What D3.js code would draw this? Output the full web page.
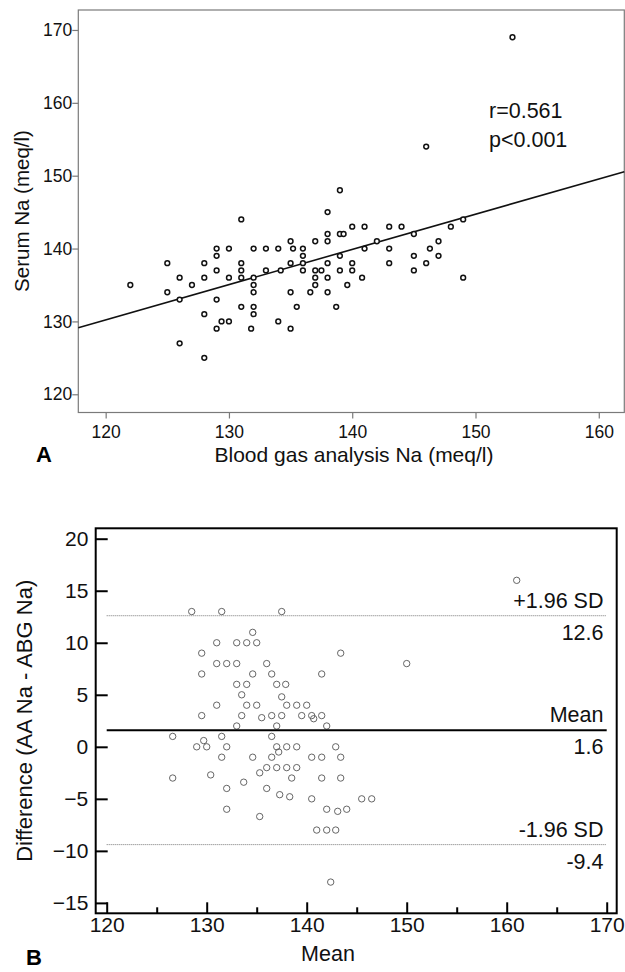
<!DOCTYPE html>
<html><head><meta charset="utf-8">
<script src="https://cdn.jsdelivr.net/npm/d3@7"></script>
<style>
body{margin:0;background:#fff}
svg{display:block}
text{font-family:"Liberation Sans",Arial,sans-serif}
</style>
</head><body>
<svg id="c" width="625" height="972"></svg>
<script>
// ---------- Panel A data ----------
const abgNa = [122,125,125,126,126,126,127,128,128,128,128,129,129,129,129,129,129.4,130,130,130,
  131,131,131,131,131,131.8,132,132,132,132,132,132,133,133,134,134,134.2,135,135,135,135,135.2,135.5,
  136,136,136,136,136.6,137,137,137,137,137.5,138,138,138,138,138,138,138.7,139,139,139,139,139.3,139.6,
  140,140,140,140.8,141,141,142,143,143,143,144,145,145,145,146,146.3,147,147,148,149,149,146,153];
const serumNa = [135,138,134,136,133,127,135,138,136,131,125,140,139,137,133,129,130,140,136,130,
  144,138,137,136,132,129,140,136,135,134,132,131,140,137,140,130,137,141,138,134,129,140,132,
  140,139,138,137,134,141,137,136,135,137,145,142,141,138,136,134,132,148,142,139,137,142,135,
  143,138,137,136,143,140,141,143,140,138,143,142,139,137,138,140,141,139,143,144,136,154,169];
const regX = [117.78,162.07];
const regY = [129.14,150.55];
const topXTicks = [120,130,140,150,160];
const topYTicks = [120,130,140,150,160,170];
const statText = ["r=0.561","p<0.001"];

// ---------- Panel B data ----------
const baMean = [161,128.5,131.5,137.5,134.6,129.5,131,133,134,135,143.4,131,132,133,136,150,129.5,134.6,136.5,141.5,
  133,134,137,137.9,133.5,137.5,131,134,135,138,139,140,129.5,133.5,136.5,137.5,139.5,140.5,141.5,135.5,140.7,
  133,137,142,126.6,131.5,136.5,129.7,129,130,132,137,138,139,142.9,137.2,131.5,134.6,136.5,140.5,141.5,143.4,
  136,137,138,139,135.3,126.6,130.4,138.5,141.5,143.4,133.7,132,136,137.3,138.3,140.5,145.5,146.5,
  132,142,144,143.1,135.3,141,142,142.9,142.4];
const baDiff = [16,13,13,13,11,9,10,10,10,10,9,8,8,8,8,8,7,7,7,7,
  6,6,6,6,5,4.8,4,4,4,4,4,4,3,3,3,3,3,3,3,2.8,2.7,
  2,2,2,1,1,1,0.6,0,0,0,0,0,0,0,-0.5,-1,-1,-1,-1,-1,-1,
  -2,-2,-2,-2,-2.5,-3,-2.7,-3,-3,-3,-3.4,-4,-4,-4.6,-4.8,-5,-5,-5,
  -6,-6,-6,-6.2,-6.7,-8,-8,-8,-13];
const baLineValues = [12.6,1.6,-9.4];
const baLineNames = ["+1.96 SD","Mean","-1.96 SD"];
const baLineLabels = ["12.6","1.6","-9.4"];
const baLineRange = [120,170];
const botXTicks = [120,130,140,150,160,170];
const botXMinor = [125,135,145,155,165];
const botYTicks = [20,15,10,5,0,-5,-10,-15];

const FONT = '"Liberation Sans",Arial,sans-serif';
const svg = d3.select("#c");

function styleAxis(g, size, color, lineColor, lw){
  g.select(".domain").remove();
  g.selectAll("line").attr("stroke", lineColor).attr("stroke-width", lw);
  g.selectAll("text").style("font-size", size+"px").style("font-family", FONT).attr("fill", color);
}

// ================= Panel A =================
const xA = d3.scaleLinear().domain([117.78,162.07]).range([78.3,624.3]);
const yA = d3.scaleLinear().domain([117.5,172.74]).range([412.5,10]);
const gA = svg.append("g");

gA.append("rect")
  .attr("x", xA.range()[0]).attr("y", yA.range()[1])
  .attr("width", xA.range()[1]-xA.range()[0]).attr("height", yA.range()[0]-yA.range()[1])
  .attr("fill","none").attr("stroke","#7a7a7a").attr("stroke-width",1.2);

const axYA = gA.append("g").attr("transform",`translate(${xA.range()[0]},0)`)
  .call(d3.axisLeft(yA).tickValues(topYTicks).tickSize(6).tickPadding(0));
styleAxis(axYA, 17.5, "#111", "#7a7a7a", 1.2);

const axXA = gA.append("g").attr("transform",`translate(0,${yA.range()[0]})`)
  .call(d3.axisBottom(xA).tickValues(topXTicks).tickSize(6).tickPadding(7));
styleAxis(axXA, 17.5, "#111", "#7a7a7a", 1.2);

const reg = regX.map((x,i)=>[x,regY[i]]);
gA.append("path").datum(reg)
  .attr("d", d3.line().x(d=>xA(d[0])).y(d=>yA(d[1])))
  .attr("stroke","#111").attr("stroke-width",1.6).attr("fill","none");

gA.selectAll("circle.pa").data(abgNa.map((x,i)=>[x,serumNa[i]])).enter()
  .append("circle").attr("class","pa")
  .attr("cx", d=>xA(d[0])).attr("cy", d=>yA(d[1])).attr("r",2.4)
  .attr("fill","#fff").attr("stroke","#111").attr("stroke-width",1.5);

gA.selectAll("text.stat").data(statText).enter().append("text").attr("class","stat")
  .attr("x",489).attr("y",(d,i)=>118+i*28.5)
  .style("font-size","21.5px").attr("fill","#111").text(d=>d);

gA.append("text").attr("x",354).attr("y",461.5).attr("text-anchor","middle")
  .style("font-size","21px").attr("fill","#111").text("Blood gas analysis Na (meq/l)");
gA.append("text").attr("transform","translate(29,211) rotate(-90)").attr("text-anchor","middle")
  .style("font-size","20.5px").attr("fill","#111").text("Serum Na (meq/l)");
gA.append("text").attr("x",36).attr("y",461.5)
  .style("font-size","22px").style("font-weight","bold").attr("fill","#000").text("A");

// ================= Panel B =================
const xB = d3.scaleLinear().domain([118.9,171]).range([95.7,616.7]);
const yB = d3.scaleLinear().domain([-16,21]).range([913.3,528.3]);
const gB = svg.append("g");

gB.selectAll("circle.pb").data(baMean.map((x,i)=>[x,baDiff[i]])).enter()
  .append("circle").attr("class","pb")
  .attr("cx", d=>xB(d[0])).attr("cy", d=>yB(d[1])).attr("r",3.2)
  .attr("fill","none").attr("stroke","#555").attr("stroke-width",0.9);

baLineValues.forEach((v,i)=>{
  const yy = yB(v);
  gB.append("line").attr("x1",xB(baLineRange[0])).attr("x2",xB(baLineRange[1]))
    .attr("y1",yy).attr("y2",yy)
    .attr("stroke", i===1 ? "#000" : "#777")
    .attr("stroke-width", i===1 ? 2 : 1)
    .attr("stroke-dasharray", i===1 ? null : "1,1");
  gB.append("text").attr("x",603.5).attr("y",yy-8).attr("text-anchor","end")
    .style("font-size","21.5px").attr("fill","#111").text(baLineNames[i]);
  gB.append("text").attr("x",603.5).attr("y",yy+24).attr("text-anchor","end")
    .style("font-size","21.5px").attr("fill","#111").text(baLineLabels[i]);
});

gB.append("rect")
  .attr("x", xB.range()[0]).attr("y", yB.range()[1])
  .attr("width", xB.range()[1]-xB.range()[0]).attr("height", yB.range()[0]-yB.range()[1])
  .attr("fill","none").attr("stroke","#000").attr("stroke-width",2);

const axYB = gB.append("g").attr("transform",`translate(${xB.range()[0]},0)`)
  .call(d3.axisLeft(yB).tickValues(botYTicks).tickSize(-12).tickPadding(7.4));
styleAxis(axYB, 21, "#111", "#000", 2);

const axXB = gB.append("g").attr("transform",`translate(0,${yB.range()[0]})`)
  .call(d3.axisBottom(xB).tickValues(botXTicks).tickSize(-11).tickPadding(4));
styleAxis(axXB, 21, "#111", "#000", 2);

const axXBm = gB.append("g").attr("transform",`translate(0,${yB.range()[0]})`)
  .call(d3.axisBottom(xB).tickValues(botXMinor).tickSize(-6).tickFormat(""));
styleAxis(axXBm, 21, "#111", "#000", 2);

gB.append("text").attr("x",328).attr("y",961).attr("text-anchor","middle")
  .style("font-size","21.5px").attr("fill","#111").text("Mean");
gB.append("text").attr("transform","translate(32,720.8) rotate(-90)").attr("text-anchor","middle")
  .style("font-size","22px").attr("fill","#111").text("Difference (AA Na - ABG Na)");
gB.append("text").attr("x",26).attr("y",965)
  .style("font-size","22px").style("font-weight","bold").attr("fill","#000").text("B");
</script>
</body></html>
